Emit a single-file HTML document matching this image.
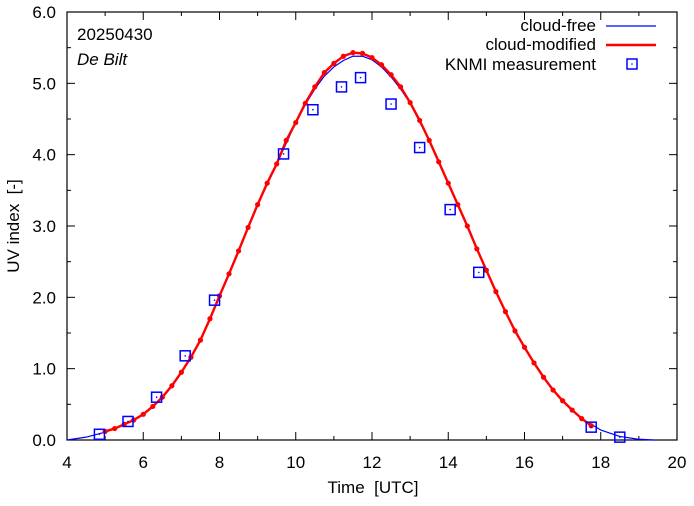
<!DOCTYPE html>
<html><head><meta charset="utf-8"><style>
body{margin:0;background:#fff}
svg{font-family:"Liberation Sans",sans-serif}
text{white-space:pre}
</style></head><body>
<svg id="chart" width="694" height="501" xmlns="http://www.w3.org/2000/svg">
<g id="axes"></g>
<g id="series"></g>
<text x="77" y="40" font-size="17">20250430</text>
<text x="77" y="65" font-size="17" font-style="italic">De Bilt</text>
<text x="373" y="493" font-size="17" text-anchor="middle">Time  [UTC]</text>
<text transform="translate(19,226) rotate(-90)" font-size="17" text-anchor="middle">UV index  [-]</text>
<g>
<text x="596" y="31" font-size="17" text-anchor="end">cloud-free</text>
<line x1="606" y1="26" x2="656" y2="26" stroke="#00f" stroke-width="1.2"/>
<text x="596" y="50" font-size="17" text-anchor="end">cloud-modified</text>
<line x1="606" y1="45" x2="656" y2="45" stroke="#f00" stroke-width="2.4"/>
<text x="596" y="70" font-size="17" text-anchor="end">KNMI measurement</text>
<rect x="627" y="59" width="10" height="10" fill="none" stroke="#00f" stroke-width="1.5"/>
<circle cx="632" cy="64" r="0.8" fill="#00f"/>
</g>
</svg>
<script>
const xTicks=[4,6,8,10,12,14,16,18,20];
const yTicks=[0,1,2,3,4,5,6];
const redStart=5.0, redStep=0.25;
const redValues=[0.12,0.16,0.22,0.28,0.36,0.47,0.6,0.76,0.95,1.16,1.4,1.7,2.02,2.33,2.65,2.98,3.3,3.6,3.87,4.2,4.45,4.72,4.95,5.15,5.28,5.38,5.43,5.42,5.36,5.26,5.12,4.95,4.73,4.48,4.2,3.9,3.6,3.3,3.0,2.68,2.38,2.08,1.8,1.53,1.3,1.08,0.88,0.7,0.55,0.42,0.3,0.2];
const blueTimes=[4,4.5,5,5.5,6,6.5,7,7.5,8,8.5,9,9.5,10,10.25,10.5,10.75,11,11.25,11.5,11.75,12,12.25,12.5,12.75,13,13.5,14,14.5,15,15.5,16,16.5,17,17.5,18,18.5,19,19.4];
const blueValues=[0,0.04,0.11,0.21,0.36,0.6,0.95,1.4,2.02,2.65,3.3,3.87,4.45,4.7,4.92,5.1,5.23,5.32,5.38,5.38,5.33,5.23,5.09,4.92,4.72,4.2,3.6,3.0,2.38,1.8,1.3,0.88,0.55,0.3,0.14,0.05,0.01,0];
const measTimes=[4.85,5.6,6.35,7.1,7.87,9.68,10.45,11.2,11.7,12.5,13.25,14.05,14.8,17.75,18.5];
const measValues=[0.08,0.26,0.6,1.18,1.96,4.01,4.63,4.95,5.08,4.71,4.1,3.23,2.35,0.18,0.04];
const L=67,R=677,T=12,B=440;
const sx=v=>L+(v-4)/16*(R-L);
const sy=v=>B-v/6*(B-T);
const NS="http://www.w3.org/2000/svg";
function mk(tag,attrs,parent){const e=document.createElementNS(NS,tag);for(const k in attrs)e.setAttribute(k,attrs[k]);parent.appendChild(e);return e;}
const ax=document.getElementById('axes'),se=document.getElementById('series');
for(let x=4;x<=20;x+=1){const major=x%2===0,len=major?8:4;
 let t=mk('line',{x1:sx(x),x2:sx(x),y1:B,y2:B-len,stroke:'#000'},ax);
 
 
 t=mk('line',{x1:sx(x),x2:sx(x),y1:T,y2:T+len,stroke:'#000'},ax);
 
 }
for(let y=0;y<=6;y+=0.5){const major=Number.isInteger(y),len=major?8:4;
 let t=mk('line',{x1:L,x2:L+len,y1:sy(y),y2:sy(y),stroke:'#000'},ax);
 
 
 t=mk('line',{x1:R,x2:R-len,y1:sy(y),y2:sy(y),stroke:'#000'},ax);
 
 }
xTicks.forEach(v=>{const t=mk('text',{x:sx(v),y:468,'font-size':17,'text-anchor':'middle'},ax);t.textContent=v;
 
 });
yTicks.forEach(v=>{const t=mk('text',{x:56,y:sy(v)+6,'font-size':17,'text-anchor':'end'},ax);t.textContent=v.toFixed(1);
 
 });
const fr=mk('rect',{x:L,y:T,width:R-L,height:B-T,fill:'none',stroke:'#000','stroke-width':1.2},ax);


const bl=mk('polyline',{points:blueTimes.map((t,i)=>sx(t)+','+sy(blueValues[i])).join(' '),fill:'none',stroke:'#00f','stroke-width':1.2,'stroke-linejoin':'round'},se);


const rp=redValues.map((v,i)=>sx(redStart+i*redStep)+','+sy(v));
const rl=mk('polyline',{points:rp.join(' '),fill:'none',stroke:'#f00','stroke-width':2.4,'stroke-linejoin':'round'},se);


redValues.forEach((v,i)=>{const c=mk('circle',{cx:sx(redStart+i*redStep),cy:sy(v),r:2.6,fill:'#f00'},se);
 
 });
measTimes.forEach((t,i)=>{const x=sx(t),y=sy(measValues[i]);
 const r=mk('rect',{x:x-5,y:y-5,width:10,height:10,fill:'none',stroke:'#00f','stroke-width':1.5},se);
 
 
 mk('circle',{cx:x,cy:y,r:0.8,fill:'#00f'},se);});
</script>
</body></html>
